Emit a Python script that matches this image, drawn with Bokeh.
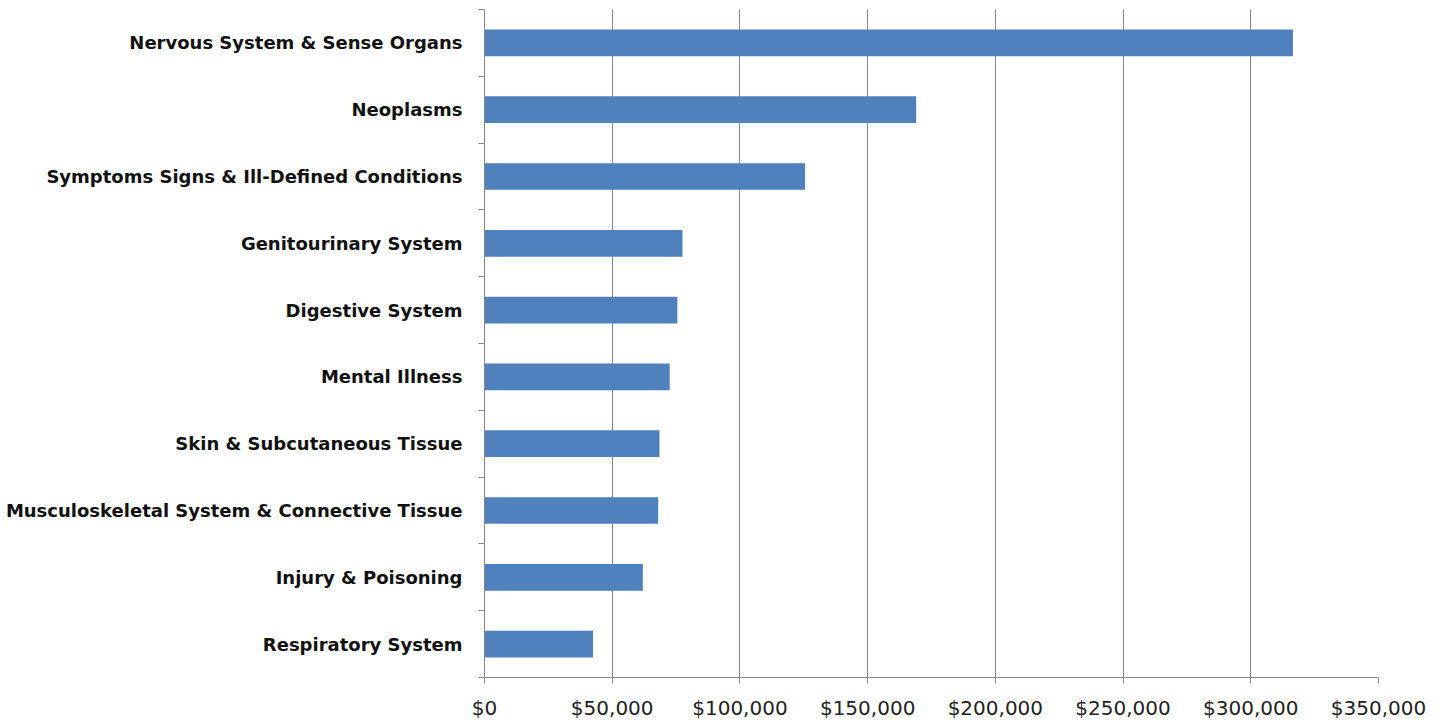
from bokeh.plotting import figure
from bokeh.models import FixedTicker, NumeralTickFormatter, Range1d, ColumnDataSource
from bokeh.embed import file_html
from bokeh.resources import INLINE

categories = [
    "Nervous System & Sense Organs",
    "Neoplasms",
    "Symptoms Signs & Ill-Defined Conditions",
    "Genitourinary System",
    "Digestive System",
    "Mental Illness",
    "Skin & Subcutaneous Tissue",
    "Musculoskeletal System & Connective Tissue",
    "Injury & Poisoning",
    "Respiratory System",
]
values = [316500, 169000, 125500, 77500, 75500, 72500, 68500, 68000, 62000, 42500]
x_ticks = [0, 50000, 100000, 150000, 200000, 250000, 300000, 350000]

n = len(categories)
# top category at top
ypos = [n - i - 0.5 for i in range(n)]
source = ColumnDataSource(dict(y=ypos, v=values, cat=categories))

FONT = "DejaVu Sans"
GRAY = "#868686"

p = figure(width=1447, height=726, output_backend="svg", toolbar_location=None,
           x_range=Range1d(0, 350000), y_range=Range1d(0, n),
           min_border_left=484, min_border_right=69, min_border_top=9, min_border_bottom=49)
p.outline_line_color = None
p.background_fill_color = "white"
p.border_fill_color = "white"

p.hbar(y="y", right="v", left=0, height=0.4, source=source,
       fill_color="#4F81BD", line_color=None)

# x axis
p.xaxis.ticker = FixedTicker(ticks=x_ticks)
p.xaxis.formatter = NumeralTickFormatter(format="$0,0")
p.xaxis.axis_line_color = GRAY
p.xaxis.major_tick_line_color = GRAY
p.xaxis.major_tick_out = 6
p.xaxis.major_tick_in = 0
p.xaxis.minor_tick_line_color = None
p.xaxis.major_label_text_font = FONT
p.xaxis.major_label_text_font_size = "20px"
p.xaxis.major_label_text_color = "#222222"
p.xaxis.major_label_standoff = 12

p.xgrid.ticker = FixedTicker(ticks=x_ticks)
p.xgrid.grid_line_color = GRAY
p.ygrid.grid_line_color = None

# y axis: labels at centers, ticks at boundaries
p.yaxis.ticker = FixedTicker(ticks=ypos, minor_ticks=list(range(n + 1)))
p.yaxis.major_label_overrides = {y: c for y, c in zip(ypos, categories)}
p.yaxis.axis_line_color = GRAY
p.yaxis.major_tick_line_color = None
p.yaxis.major_tick_out = 6
p.yaxis.major_tick_in = 0
p.yaxis.minor_tick_line_color = GRAY
p.yaxis.minor_tick_out = 6
p.yaxis.minor_tick_in = 0
p.yaxis.major_label_text_font = FONT
p.yaxis.major_label_text_font_style = "bold"
p.yaxis.major_label_text_font_size = "18px"
p.yaxis.major_label_text_color = "#111111"
p.yaxis.major_label_standoff = 16

open("out.html", "w").write(file_html(p, INLINE))
